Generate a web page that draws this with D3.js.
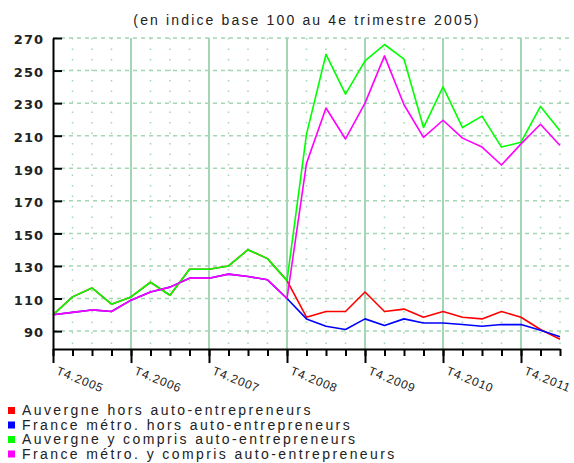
<!DOCTYPE html>
<html>
<head>
<meta charset="utf-8">
<script src="https://cdn.jsdelivr.net/npm/d3@7"></script>
<style>
  body { margin: 0; background: #fff; }
  svg { display: block; }
  .axis text { font-family: "DejaVu Sans", sans-serif; font-weight: bold; font-size: 13px; letter-spacing: 1px; fill: #222; }
  .axis path, .axis line { stroke: #000; }
</style>
</head>
<body>
<svg id="chart"></svg>
<script>
// quarters from T4 2005 to T2 2012
const quarters = [
  'T4.2005', 'T1.2006', 'T2.2006', 'T3.2006', 'T4.2006', 'T1.2007', 'T2.2007', 'T3.2007',
  'T4.2007', 'T1.2008', 'T2.2008', 'T3.2008', 'T4.2008', 'T1.2009', 'T2.2009', 'T3.2009',
  'T4.2009', 'T1.2010', 'T2.2010', 'T3.2010', 'T4.2010', 'T1.2011', 'T2.2011', 'T3.2011',
  'T4.2011', 'T1.2012', 'T2.2012'
];
const yearLabels = ['T4.2005', 'T4.2006', 'T4.2007', 'T4.2008', 'T4.2009', 'T4.2010', 'T4.2011'];
const yTicks = [90, 110, 130, 150, 170, 190, 210, 230, 250, 270];

const auvergneHors = [100, 111, 116.5, 106.5, 111, 120, 112, 128, 128, 130, 140, 134.5, 121,
  98.5, 102, 102, 114, 102, 103.5, 98.5, 102, 98.5, 97.5, 102, 98.5, 91, 85];
const franceHors = [100, 101.5, 103, 102, 109, 114, 117, 122.5, 122.5, 125, 123.5, 121.5, 110,
  97.5, 93, 91, 97.5, 93.5, 97.5, 95, 95, 94, 93, 94, 94, 90.5, 86.5];
const auvergneAvec = [100, 111, 116.5, 106.5, 111, 120, 112, 128, 128, 130, 140, 134.5, 121,
  211, 260, 235.5, 256, 266, 257, 215, 240, 215, 222, 203, 206, 228, 213];
const franceAvec = [100, 101.5, 103, 102, 109, 114, 117, 122.5, 122.5, 125, 123.5, 121.5, 110,
  193, 227, 208, 230, 259, 229, 209, 219.5, 208.5, 203, 192, 205, 217, 204];

const seriesNames = [
  'Auvergne hors auto-entrepreneurs',
  'France métro. hors auto-entrepreneurs',
  'Auvergne y compris auto-entrepreneurs',
  'France métro. y compris auto-entrepreneurs'
];
const seriesValues = [auvergneHors, franceHors, auvergneAvec, franceAvec];
const seriesColors = ['#ff0000', '#0000ff', '#00ff00', '#ff00ff'];

const width = 574, height = 463;
const plot = {left: 53, right: 560, top: 38, bottom: 349};
const gridColor = '#a3d6b3';

const svg = d3.select('#chart').attr('width', width).attr('height', height);

const x = d3.scalePoint().domain(quarters).range([plot.left, plot.right]);
const y = d3.scaleLinear().domain([79, 270]).range([plot.bottom, plot.top]);

// title
svg.append('text')
  .attr('x', 307).attr('y', 25)
  .attr('text-anchor', 'middle')
  .style('font-family', '"Liberation Sans", Arial, sans-serif')
  .style('font-size', '14px')
  .style('letter-spacing', '2.15px')
  .attr('fill', '#222')
  .text('(en indice base 100 au 4e trimestre 2005)');

// grid
const grid = svg.append('g');
grid.selectAll('.hgrid')
  .data(yTicks)
  .join('line')
  .attr('class', 'hgrid')
  .attr('x1', plot.left).attr('x2', 570)
  .attr('y1', d => y(d)).attr('y2', d => y(d))
  .attr('stroke', gridColor).attr('stroke-width', 1.5)
  .attr('stroke-dasharray', '4,4');

grid.selectAll('.vdot')
  .data(quarters.filter(q => !yearLabels.includes(q)))
  .join('line')
  .attr('class', 'vdot')
  .attr('x1', d => x(d)).attr('x2', d => x(d))
  .attr('y1', plot.top).attr('y2', plot.bottom)
  .attr('stroke', gridColor).attr('stroke-width', 1.5)
  .attr('stroke-dasharray', '1.5,9');

grid.selectAll('.vyear')
  .data(yearLabels.slice(1))
  .join('line')
  .attr('class', 'vyear')
  .attr('x1', d => x(d)).attr('x2', d => x(d))
  .attr('y1', plot.top).attr('y2', plot.bottom)
  .attr('stroke', gridColor).attr('stroke-width', 2);

// lines
const line = d3.line()
  .x((d, i) => x(quarters[i]))
  .y(d => y(d));

svg.append('g').selectAll('.serie')
  .data(seriesValues)
  .join('path')
  .attr('class', 'serie')
  .attr('d', d => line(d))
  .attr('fill', 'none')
  .attr('stroke', (d, i) => seriesColors[i])
  .attr('stroke-width', 1.6)
  .attr('stroke-linejoin', 'round');

// axes
const yAxis = d3.axisLeft(y)
  .tickValues(yTicks)
  .tickSize(-9)
  .tickSizeOuter(0)
  .tickPadding(9);

const yAxisG = svg.append('g')
  .attr('class', 'axis')
  .attr('transform', `translate(${plot.left},0)`)
  .call(yAxis);
yAxisG.select('.domain').attr('stroke-width', 2);
yAxisG.selectAll('.tick line').attr('stroke-width', 2);
yAxisG.selectAll('.tick text').attr('dy', '0.45em');

const xMinor = d3.axisBottom(x)
  .tickSize(7)
  .tickSizeOuter(0)
  .tickFormat('');

const xMinorG = svg.append('g')
  .attr('class', 'axis')
  .attr('transform', `translate(0,${plot.bottom})`)
  .call(xMinor);
xMinorG.select('.domain').attr('stroke-width', 2);
xMinorG.selectAll('.tick line').attr('stroke-width', 2);

const xMajor = d3.axisBottom(x)
  .tickValues(yearLabels)
  .tickSize(14)
  .tickSizeOuter(0);

const xMajorG = svg.append('g')
  .attr('class', 'axis')
  .attr('transform', `translate(0,${plot.bottom})`)
  .call(xMajor);
xMajorG.select('.domain').remove();
xMajorG.selectAll('.tick line').attr('stroke-width', 2);
xMajorG.selectAll('.tick text')
  .attr('text-anchor', 'start')
  .attr('x', 0).attr('y', 0).attr('dy', 0)
  .attr('transform', 'translate(2,25) rotate(22)')
  .style('font-family', '"Liberation Sans", Arial, sans-serif')
  .style('font-weight', 'normal')
  .style('font-size', '12px')
  .style('letter-spacing', '0.8px')
  .attr('fill', '#333');

// legend
const legend = svg.append('g')
  .selectAll('.legend')
  .data(seriesNames)
  .join('g')
  .attr('class', 'legend')
  .attr('transform', (d, i) => `translate(8,${415 + i * 14.5})`);

legend.append('rect')
  .attr('x', 0).attr('y', -8)
  .attr('width', 7).attr('height', 7)
  .attr('fill', (d, i) => seriesColors[i]);

legend.append('text')
  .attr('x', 14).attr('y', 0)
  .style('font-family', '"Liberation Sans", Arial, sans-serif')
  .style('font-size', '14px')
  .style('letter-spacing', '2.4px')
  .attr('fill', '#222')
  .text(d => d);
</script>
</body>
</html>
